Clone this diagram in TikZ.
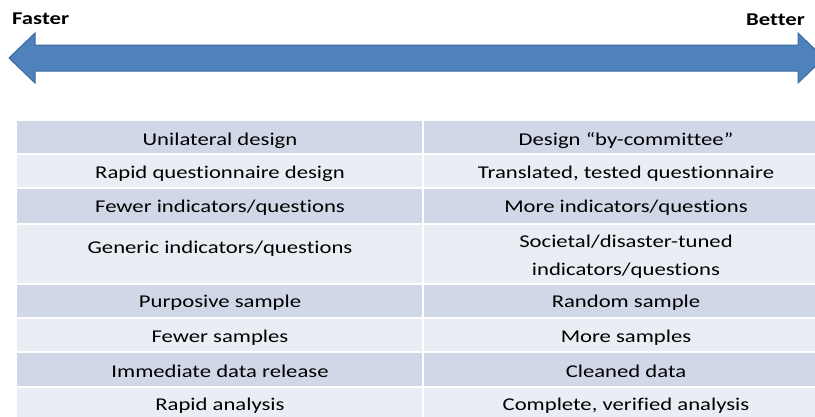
\documentclass[tikz,border=0pt]{standalone}
\usepackage{fontspec}
\setmainfont[FakeStretch=1.26, Ligatures=NoCommon]{Carlito}
\definecolor{arrowblue}{HTML}{4F81BD}
\definecolor{arrowedge}{HTML}{3C6A9E}
\definecolor{rowdark}{HTML}{D0D8E8}
\definecolor{rowlight}{HTML}{E9EDF4}
\tikzset{
    cell/.style={font=\fontsize{18}{28}\selectfont, align=center, anchor=base, inner sep=0pt},
    endlabel/.style={font=\fontsize{18}{22}\selectfont\bfseries, inner sep=0pt}
}

\begin{document}
\begin{tikzpicture}[x=1pt,y=-1pt]
    \useasboundingbox (0,0) rectangle (815,416);

    % Double arrow from faster to better
    \draw[fill=arrowblue, draw=arrowedge, line width=1pt]
        (9,58) -- (35,33) -- (35,45) -- (798,45) -- (798,33) -- (824,58)
        -- (798,83) -- (798,71) -- (35,71) -- (35,83) -- cycle;
    \node[endlabel, anchor=base west] (faster) at (12,24) {Faster};
    \node[endlabel, anchor=base east] (better) at (805,25) {Better};

    % Banded rows
    \foreach \t/\b/\c in {121/154/rowdark, 154/188/rowlight, 188/224/rowdark,
                          224/284/rowlight, 284/318/rowdark, 318/352/rowlight,
                          352/387/rowdark, 387/422/rowlight}
        \fill[\c] (17,\t) rectangle (830,\b);
    \foreach \y in {154,188,224,284,318,352,387}
        \draw[white, line width=2pt] (17,\y) -- (830,\y);
    \draw[white, line width=2pt] (423,121) -- (423,422);

    % Faster side left, better side right
    \foreach \y/\l/\r [count=\i] in {
        145/{Unilateral design}/{Design “by-committee”},
        178/{Rapid questionnaire design}/{Translated, tested questionnaire},
        212/{Fewer indicators/questions}/{More indicators/questions},
        253/{Generic indicators/questions}/{},
        307/{Purposive sample}/{Random sample},
        342/{Fewer samples}/{More samples},
        377/{Immediate data release}/{Cleaned data},
        410/{Rapid analysis}/{Complete, verified analysis}}
    {
        \node[cell] (slow\i) at (220,\y) {\l};
        \node[cell] (good\i) at (626,\y) {\r};
    }
    \node[cell] (tuned) at (626,275) {Societal/disaster-tuned\\indicators/questions};
\end{tikzpicture}
\end{document}
